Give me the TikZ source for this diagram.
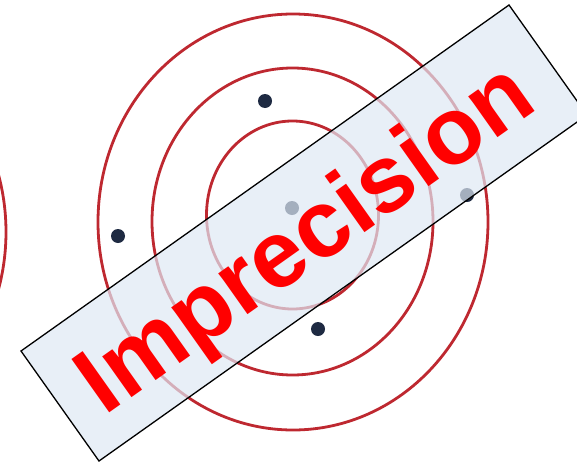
\documentclass[tikz,border=0pt]{standalone}
\usepackage{fontspec}
\setmainfont{Liberation Sans}
\definecolor{ringred}{RGB}{190,40,48}
\definecolor{dotblue}{RGB}{30,42,66}
\definecolor{bandfill}{RGB}{222,232,244}
\definecolor{txtred}{RGB}{255,0,0}
\tikzset{
  ring/.style={draw=ringred, line width=2.8pt},
  hit/.style={fill=dotblue},
  band/.style={draw=black, line width=1.3pt, fill=bandfill, fill opacity=0.7},
  label/.style={text=txtred, font=\fontsize{95}{95}\selectfont\bfseries, inner sep=0pt, anchor=base, rotate=35.3}
}
\begin{document}
\begin{tikzpicture}[x=1pt,y=-1pt]
\useasboundingbox (0,0) rectangle (577,463);
\clip (0,0) rectangle (577,463);
% neighbouring target (left edge)
\draw[ring] (-189,232) ellipse [x radius=195, y radius=208];
% main target
\draw[ring] (293,222) ellipse [x radius=195, y radius=208];
\draw[ring] (292.5,221.5) ellipse [x radius=140.5, y radius=153.5];
\draw[ring] (292.5,215) ellipse [x radius=86, y radius=94];
% hits
\fill[hit] (265,101) circle (7);
\fill[hit] (118,236) circle (7);
\fill[hit] (292,208) circle (7);
\fill[hit] (467,195) circle (7);
\fill[hit] (318,329) circle (7);
% band
\coordinate (A) at (21,351);
\coordinate (B) at (509,5);
\coordinate (C) at (587,115);
\coordinate (D) at (99,461);
\draw[band] (A) -- (B) -- (C) -- (D) -- cycle;
\node[label] (word) at (322.5,262.5) {Imprecision};
\end{tikzpicture}
\end{document}
